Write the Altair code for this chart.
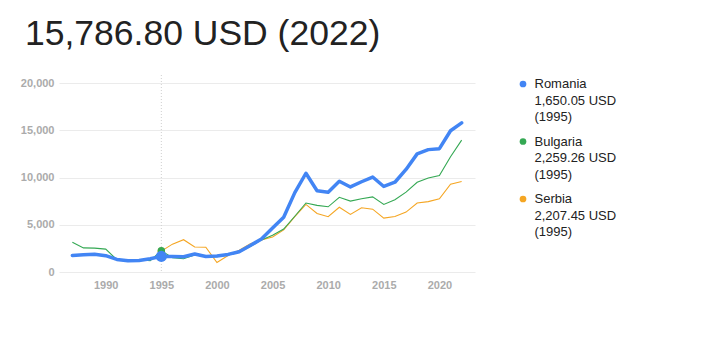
import altair as alt
import pandas as pd

# ---- data ----
years_ro = list(range(1987, 2023))
romania = [1750, 1820, 1880, 1730, 1330, 1180, 1210, 1400, 1650.05, 1650,
           1620, 1900, 1640, 1700, 1860, 2150, 2800, 3500, 4650, 5800,
           8400, 10450, 8600, 8450, 9600, 9000, 9550, 10050, 9050, 9500,
           10850, 12500, 12950, 13050, 14950, 15786.8]

years_bg = list(range(1987, 2023))
bulgaria = [3150, 2550, 2530, 2420, 1300, 1200, 1300, 1200, 2259.26, 1500,
            1400, 1800, 1650, 1620, 1800, 2100, 2700, 3400, 3900, 4550,
            5900, 7300, 7050, 6900, 7900, 7500, 7750, 7950, 7150, 7650,
            8450, 9500, 9950, 10200, 12200, 13950]

years_rs = list(range(1995, 2023))
serbia = [2207.45, 2950, 3420, 2650, 2620, 1000, 1750, 2300, 3000, 3400,
          3700, 4450, 5850, 7150, 6200, 5850, 6850, 6100, 6800, 6650,
          5700, 5880, 6340, 7300, 7450, 7750, 9300, 9580]

countries = ["Romania", "Bulgaria", "Serbia"]
colors = ["#4285F4", "#34A853", "#F5A623"]
sel_year = 1995
sel_values = ["1,650.05 USD", "2,259.26 USD", "2,207.45 USD"]
title_text = "15,786.80 USD (2022)"
x_ticks = [1990, 1995, 2000, 2005, 2010, 2015, 2020]
y_ticks = [0, 5000, 10000, 15000, 20000]

FONT = "Liberation Sans, Arial, sans-serif"

rows = []
for name, yrs, vals in [("Serbia", years_rs, serbia),
                        ("Bulgaria", years_bg, bulgaria),
                        ("Romania", years_ro, romania)]:
    for yr, v in zip(yrs, vals):
        rows.append({"country": name, "year": yr, "value": v})
df = pd.DataFrame(rows)

leg_df = pd.DataFrame({
    "country": countries,
    "idx": [0, 1, 2],
    "val": sel_values,
    "yr": [f"({sel_year})"] * 3,
})

W, H = 416, 189

color = alt.Color("country:N", scale=alt.Scale(domain=countries, range=colors), legend=None)
x = alt.X("year:Q",
          scale=alt.Scale(domain=[1985.8, 2023.2], nice=False, zero=False),
          axis=alt.Axis(values=x_ticks, format="d", title=None, grid=False, ticks=False,
                        domain=False, labelPadding=7, labelFont=FONT, labelFontSize=11,
                        labelFontWeight="bold", labelColor="#ababab"))
y = alt.Y("value:Q",
          scale=alt.Scale(domain=[0, 20000], nice=False),
          axis=alt.Axis(values=y_ticks, format=",d", title=None, ticks=False, domain=False,
                        gridColor="#ebebeb", gridWidth=1, labelPadding=5, labelFont=FONT,
                        labelFontSize=11, labelFontWeight="bold", labelColor="#ababab"))

base = alt.Chart(df)

rule = alt.Chart(pd.DataFrame({"year": [sel_year]})).mark_rule(
    color="#cfcfcf", strokeDash=[1, 2], strokeWidth=1
).encode(x=alt.X("year:Q"), y=alt.value(-8), y2=alt.value(H))

thin = base.transform_filter("datum.country != 'Romania'").mark_line(
    strokeWidth=1.1).encode(x=x, y=y, color=color)
thick = base.transform_filter("datum.country == 'Romania'").mark_line(
    strokeWidth=3.5, strokeJoin="round", strokeCap="round").encode(x=x, y=y, color=color)

pts_small = base.transform_filter(
    f"datum.year == {sel_year} && datum.country != 'Romania'"
).mark_circle(size=55, opacity=1).encode(x=x, y=y, color=color)
pts_big = base.transform_filter(
    f"datum.year == {sel_year} && datum.country == 'Romania'"
).mark_circle(size=125, opacity=1).encode(x=x, y=y, color=color)

main = alt.layer(thin, rule, thick, pts_small, pts_big)

ly = alt.Y("idx:Q", scale=alt.Scale(domain=[0, 2], range=[1, 116]), axis=None)
leg = alt.Chart(leg_df)
leg_dots = leg.mark_circle(size=45, opacity=1).encode(x=alt.value(464), y=ly, color=color)
leg_name = leg.mark_text(align="left", baseline="middle", font=FONT, fontSize=13,
                         color="#222222").encode(x=alt.value(475.5), y=ly, text="country:N")
leg_val = leg.mark_text(align="left", baseline="middle", font=FONT, fontSize=13,
                        color="#222222", dy=16.5).encode(x=alt.value(475.5), y=ly, text="val:N")
leg_yr = leg.mark_text(align="left", baseline="middle", font=FONT, fontSize=13,
                       color="#222222", dy=33).encode(x=alt.value(475.5), y=ly, text="yr:N")
legend = alt.layer(leg_dots, leg_name, leg_val, leg_yr)

chart = alt.layer(main, legend).resolve_scale(y="independent").properties(
    width=W, height=H,
    title=alt.TitleParams(title_text, anchor="start", frame="group", font=FONT,
                          fontSize=35.5, fontWeight="normal", color="#222222", dx=-34,
                          offset=-6, baseline="alphabetic"),
    autosize=alt.AutoSizeParams(type="none"),
    padding={"left": 51, "top": 75, "right": 210, "bottom": 70},
).configure_view(stroke=None)

chart.save("out.html", embed_options={"renderer": "svg", "actions": False})
